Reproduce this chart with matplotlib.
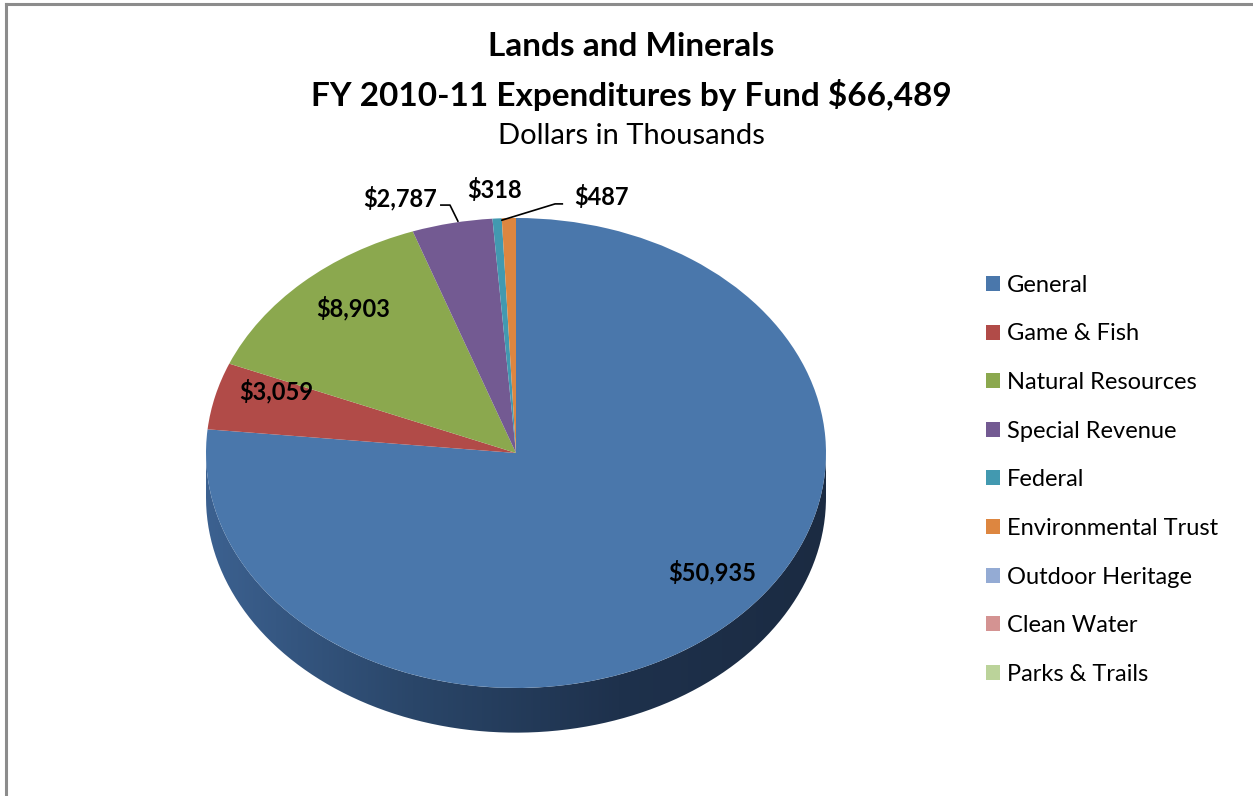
import numpy as np
import matplotlib.pyplot as plt
from matplotlib.patches import PathPatch
from matplotlib.path import Path
from matplotlib.lines import Line2D
from matplotlib.colors import LinearSegmentedColormap

plt.rcParams['font.family'] = ['Lato', 'DejaVu Sans']

funds = ['General', 'Game & Fish', 'Natural Resources', 'Special Revenue', 'Federal',
         'Environmental Trust', 'Outdoor Heritage', 'Clean Water', 'Parks & Trails']
amounts = [50935, 3059, 8903, 2787, 318, 487, 0, 0, 0]
colors = ['#4A77AB', '#B14B48', '#8BA84E', '#735A92', '#4299B0', '#DD8640',
          '#94ABD4', '#D49392', '#BBD39A']
labels = ['$50,935', '$3,059', '$8,903', '$2,787', '$318', '$487', '', '', '']

fig = plt.figure(figsize=(12.53, 7.96), dpi=100)

# pie axes: unit radius -> 310 px wide, 235 px tall
W, H = 1253, 796
ax = fig.add_axes([144 / W, 14 / H, 744 / W, 611 / H])
depth = 0.19

vals = [a for a in amounts if a > 0]
cols = [c for a, c in zip(amounts, colors) if a > 0]

# side of the disc (gradient band)
t = np.linspace(np.pi, 2 * np.pi, 200)
xs = np.concatenate([np.cos(t), np.cos(t[::-1])])
ys = np.concatenate([np.sin(t) - depth, np.sin(t[::-1])])
side = PathPatch(Path(np.column_stack([xs, ys])), facecolor='none', edgecolor='none')
ax.add_patch(side)
cmap = LinearSegmentedColormap.from_list('side', ['#3C6190', '#2A4669', '#1E314C', '#1B2B42'])
grad = np.linspace(0, 1, 256).reshape(1, -1)
im = ax.imshow(grad, cmap=cmap, extent=[-1, 1, -1 - depth, 0], aspect='auto', zorder=1)
im.set_clip_path(side)

wedges, _ = ax.pie(vals, colors=cols, startangle=90, counterclock=False,
                   wedgeprops=dict(linewidth=0, zorder=2))
for w in wedges:
    w.set_zorder(2)

ax.set_aspect('auto')
ax.set_xlim(-1.2, 1.2)
ax.set_ylim(-1.4, 1.2)
ax.axis('off')

# value labels
lab_kw = dict(fontsize=17, fontweight='bold', color='black', zorder=5)
ax.text(0.632, -0.506, labels[0], ha='center', va='center', **lab_kw)
ax.text(-0.774, 0.264, labels[1], ha='center', va='center', **lab_kw)
ax.text(-0.526, 0.617, labels[2], ha='center', va='center', **lab_kw)

def edge_pt(frac):
    ang = np.deg2rad(90 - 360 * frac)
    return np.cos(ang), np.sin(ang)

cum = np.cumsum([0] + vals) / sum(vals)
mid = [(cum[i] + cum[i + 1]) / 2 for i in range(len(vals))]

# leader lines for the thin slices
x3, y3 = edge_pt(mid[3])
ax.plot([-0.245, -0.213, x3 + 0.02], [1.055, 1.055, y3 + 0.005], color='black', lw=1.2,
        zorder=4, solid_capstyle='butt')
ax.text(-0.255, 1.085, labels[3], ha='right', va='center', **lab_kw)
ax.text(-0.068, 1.119, labels[4], ha='center', va='center', **lab_kw)
x5, y5 = edge_pt(mid[5])
ax.plot([x5 - 0.025, 0.126, 0.152], [y5 - 0.01, 1.06, 1.06], color='black', lw=1.2,
        zorder=4, solid_capstyle='butt')
ax.text(0.187, 1.089, labels[5], ha='left', va='center', **lab_kw)

# legend
handles = [plt.Rectangle((0, 0), 1, 1, facecolor=c, edgecolor='none') for c in colors]
fig.legend(handles, funds, loc='upper left', bbox_to_anchor=(974 / W, 1 - 263 / H),
           frameon=False, fontsize=17, handlelength=0.6, handleheight=0.6,
           handletextpad=0.3, labelspacing=1.17, borderpad=0)

# titles
fig.text(631 / W, 1 - 47 / H, 'Lands and Minerals', ha='center', va='center',
         fontsize=24, fontweight='bold')
fig.text(631 / W, 1 - 95 / H, 'FY 2010-11 Expenditures by Fund $66,489', ha='center',
         va='center', fontsize=24, fontweight='bold')
fig.text(631 / W, 1 - 136 / H, 'Dollars in Thousands', ha='center', va='center', fontsize=21)

# chart border
fig.add_artist(Line2D([6 / W, 6 / W], [0, 1 - 4 / H], color='#8C8C8C', lw=2.2))
fig.add_artist(Line2D([6 / W, 1], [1 - 4 / H, 1 - 4 / H], color='#8C8C8C', lw=2.2))

fig.savefig('out.png', dpi=100)
